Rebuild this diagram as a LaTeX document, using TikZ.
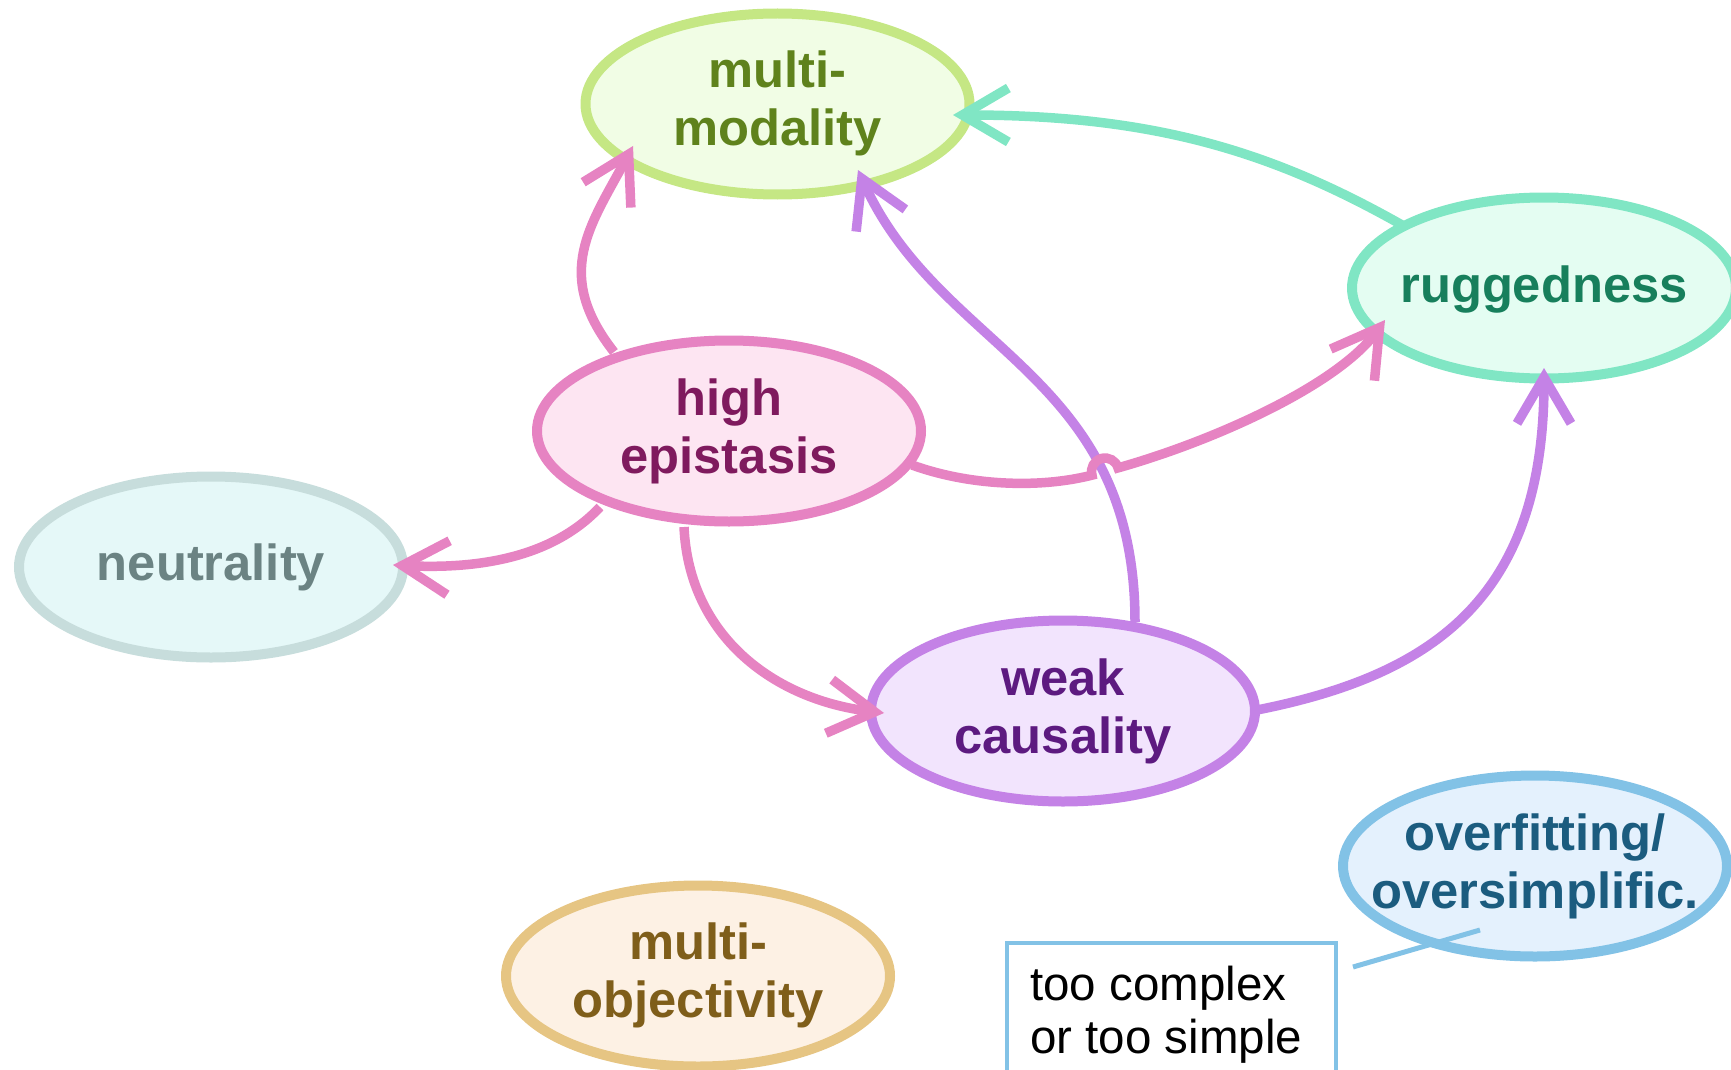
\documentclass[tikz,border=0pt]{standalone}
\usepackage{fontspec}
\setmainfont{Liberation Sans}
\usetikzlibrary{arrows.meta,shapes.geometric}
\definecolor{mmD}{HTML}{C5E784}\definecolor{mmF}{HTML}{F1FDE5}\definecolor{mmT}{HTML}{5F821C}
\definecolor{rgD}{HTML}{80E6C4}\definecolor{rgF}{HTML}{E4FDF2}\definecolor{rgT}{HTML}{177F5C}
\definecolor{epD}{HTML}{E683C2}\definecolor{epF}{HTML}{FDE5F2}\definecolor{epT}{HTML}{7F1A5E}
\definecolor{nuD}{HTML}{C7DDDC}\definecolor{nuF}{HTML}{E5F8F8}\definecolor{nuT}{HTML}{6B8383}
\definecolor{wcD}{HTML}{C482E6}\definecolor{wcF}{HTML}{F2E4FD}\definecolor{wcT}{HTML}{5D1A80}
\definecolor{moD}{HTML}{E6C583}\definecolor{moF}{HTML}{FDF1E4}\definecolor{moT}{HTML}{7F5E1A}
\definecolor{ofD}{HTML}{82C2E6}\definecolor{ofF}{HTML}{E4F1FD}\definecolor{ofT}{HTML}{1B5C7F}
\newcommand\tlab[2]{\raisebox{#1}[0pt][0pt]{\makebox[0pt]{\begin{tabular}[t]{@{}c@{}}#2\end{tabular}}}}
\begin{document}
\begin{tikzpicture}[x=1pt,y=1pt,
  ell/.style n args={3}{ellipse, draw=#1, fill=#2, text=#3, line width=10pt,
    minimum width=384pt, minimum height=181pt, inner sep=0pt, outer sep=0pt,
    font=\fontsize{50.7}{58}\selectfont\bfseries},
  conn/.style={line width=9.5pt, draw=#1, -{Straight Barb[length=46pt,width=54pt]}},
  callout/.style={line width=5pt, draw=ofD}]
\useasboundingbox (0,0) rectangle (1731,-1070);
\node[ell={mmD}{mmF}{mmT}] (mm) at (777.5,-104) {\tlab{16pt}{multi-\\modality}};
\node[ell={rgD}{rgF}{rgT}] (rug) at (1544,-288) {\tlab{-14pt}{ruggedness}};
\node[ell={epD}{epF}{epT}] (ep) at (729,-431) {\tlab{16pt}{high\\epistasis}};
\node[ell={nuD}{nuF}{nuT}] (neu) at (211,-567) {\tlab{-13pt}{neutrality}};
\node[ell={wcD}{wcF}{wcT}] (wc) at (1063,-711) {\tlab{16pt}{weak\\causality}};
\node[ell={moD}{moF}{moT}] (mo) at (698,-976) {\tlab{17pt}{multi-\\objectivity}};
\node[ell={ofD}{ofF}{ofT}] (ovf) at (1535,-866) {\tlab{16pt}{overfitting/\\oversimplific.}};
\node[draw=ofD, fill=white, line width=4.5pt, minimum width=329pt, minimum height=200pt,
  inner sep=0pt, outer sep=0pt, anchor=north west] (box) at (1007,-943) {};
\node[anchor=base west, inner sep=0pt, font=\fontsize{47.5}{53}\selectfont] (boxtxt)
  at ([shift={(23,-57)}]box.north west)
  {\begin{tabular}[t]{@{}l@{}}too complex\\or too simple\end{tabular}};
\coordinate (hop) at (1105,-471.5);
% edges
\draw[conn=epD] ([shift={(-115,79)}]ep.center) .. controls +(-62,79) and +(-42,-79) .. ([shift={(-144.5,-42)}]mm.center);
\draw[conn=rgD] ([shift={(-142,63)}]rug.center) .. controls +(-131,74) and +(200,0) .. ([shift={(175.5,-11)}]mm.center);
\draw[conn=wcD] ([shift={(72,89)}]wc.center) .. controls +(0,250) and +(82,-182) .. ([shift={(80.5,-66)}]mm.center);
\draw[conn=wcD] ([shift={(194,1)}]wc.center) .. controls +(176,35) and +(0,-230) .. ([shift={(0,-80)}]rug.center);
\draw[conn=epD] ([shift={(183,-34)}]ep.center) .. controls +(55,-20) and +(-55,-14) .. ([shift={(195.6:13.5)}]hop)
  arc[start angle=195.6, end angle=15.6, radius=13.5]
  .. controls +(96,27) and +(-47,-65) .. ([shift={(-159,-32)}]rug.center);
\draw[conn=epD] ([shift={(-129,-76)}]ep.center) .. controls +(-41,-44) and +(100,-5) .. ([shift={(182,2)}]neu.center);
\draw[conn=epD] ([shift={(-45,-96)}]ep.center) .. controls +(5,-110) and +(-109,13) .. ([shift={(-179,-2)}]wc.center);
\draw[callout] ([shift={(-55,-64)}]ovf.center) -- ([shift={(17,-24)}]box.north east);
\end{tikzpicture}
\end{document}
